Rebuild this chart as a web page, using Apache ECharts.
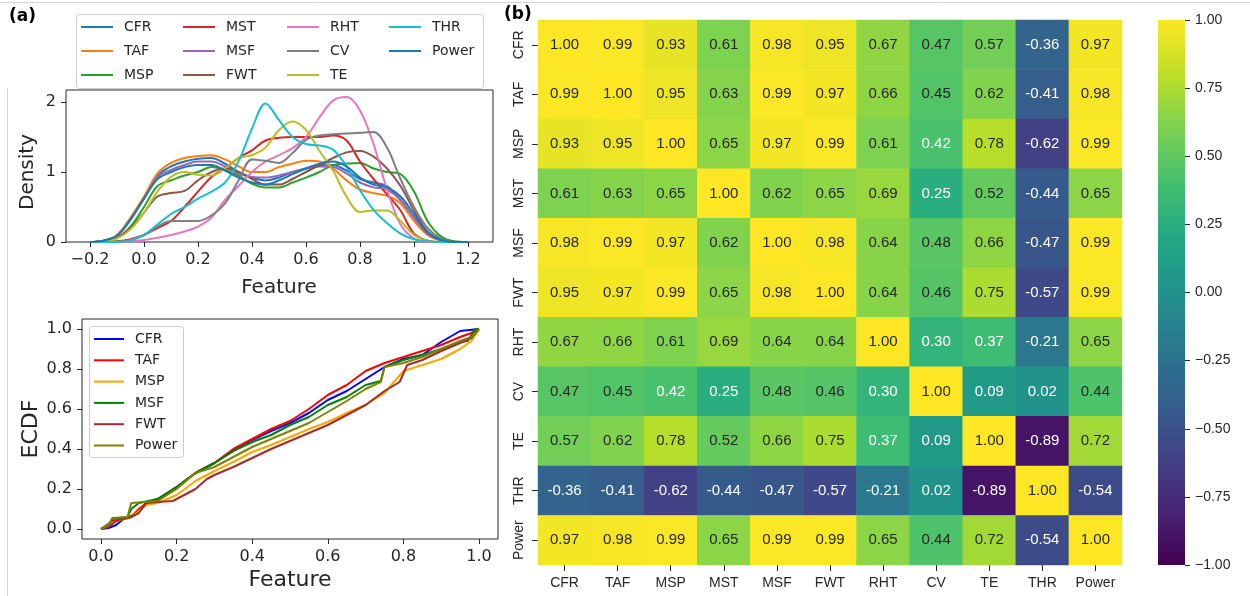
<!DOCTYPE html>
<html><head><meta charset="utf-8">
<script src="https://cdn.jsdelivr.net/npm/echarts@6/dist/echarts.min.js"></script>
<style>html,body{margin:0;padding:0;background:#fff}#c{width:1250px;height:596px}</style>
</head><body><div id="c"></div>
<script>
// ---------- (a) top: density curves ----------
const densityX = [-0.2,-0.15,-0.1,-0.05,0,0.05,0.1,0.15,0.2,0.25,0.3,0.35,0.4,0.45,0.5,0.55,0.6,0.65,0.7,0.75,0.8,0.85,0.9,0.95,1.0,1.05,1.1,1.15,1.2];
const densityNames = ['CFR','TAF','MSP','MST','MSF','FWT','RHT','CV','TE','THR','Power'];
const densityColors = ['#1f77b4','#ff7f0e','#2ca02c','#d62728','#9467bd','#8c564b','#e377c2','#7f7f7f','#bcbd22','#17becf','#1f77b4'];
const dCFR   = [0.0,0.02,0.09,0.32,0.63,0.95,1.08,1.15,1.19,1.2,1.12,1.0,0.92,0.88,0.92,1.0,1.05,1.1,1.1,1.02,0.9,0.85,0.8,0.6,0.35,0.12,0.02,0.0,0.0];
const dTAF   = [0.0,0.02,0.1,0.35,0.65,0.98,1.13,1.2,1.23,1.24,1.18,1.08,1.0,1.0,1.07,1.12,1.16,1.15,1.05,0.88,0.75,0.7,0.66,0.55,0.3,0.1,0.02,0.0,0.0];
const dMSP   = [0.0,0.01,0.06,0.22,0.5,0.8,0.88,0.95,1.0,1.07,1.03,0.95,0.83,0.78,0.78,0.85,0.92,1.0,1.1,1.12,1.13,1.05,1.0,0.97,0.72,0.3,0.08,0.01,0.0];
const dMST   = [0.0,0.0,0.01,0.04,0.1,0.2,0.3,0.5,0.72,0.93,1.05,1.2,1.31,1.45,1.49,1.5,1.5,1.5,1.52,1.45,1.15,0.9,0.68,0.45,0.12,0.02,0.0,0.0,0.0];
const dMSF   = [0.0,0.02,0.09,0.33,0.62,0.93,1.03,1.1,1.15,1.15,1.08,0.98,0.93,0.92,0.95,1.0,1.05,1.08,1.07,0.98,0.85,0.78,0.75,0.6,0.35,0.12,0.02,0.0,0.0];
const dFWT   = [0.0,0.01,0.06,0.2,0.42,0.65,0.7,0.73,0.88,1.0,1.05,1.0,0.9,0.82,0.82,0.9,1.0,1.1,1.2,1.28,1.3,1.22,1.05,0.8,0.45,0.15,0.03,0.0,0.0];
const dRHT   = [0.0,0.0,0.0,0.01,0.03,0.06,0.1,0.15,0.22,0.35,0.6,0.8,1.0,1.15,1.24,1.34,1.5,1.78,2.02,2.07,1.88,1.4,0.75,0.25,0.05,0.0,0.0,0.0,0.0];
const dCV    = [0.0,0.0,0.01,0.03,0.1,0.22,0.3,0.3,0.3,0.38,0.55,0.88,1.18,1.16,1.13,1.27,1.46,1.52,1.54,1.55,1.56,1.57,1.35,0.9,0.5,0.2,0.05,0.0,0.0];
const dTE    = [0.0,0.01,0.05,0.18,0.42,0.72,0.93,1.0,0.96,0.95,1.05,1.2,1.24,1.35,1.6,1.72,1.6,1.3,1.02,0.65,0.43,0.45,0.45,0.3,0.1,0.02,0.0,0.0,0.0];
const dTHR   = [0.0,0.0,0.0,0.02,0.1,0.25,0.4,0.5,0.62,0.72,0.85,1.15,1.62,1.98,1.74,1.5,1.4,1.38,1.32,1.08,0.74,0.46,0.27,0.12,0.04,0.01,0.0,0.0,0.0];
const dPower = [0.0,0.02,0.09,0.32,0.62,0.9,1.0,1.07,1.1,1.1,1.02,0.92,0.85,0.82,0.88,0.97,1.05,1.12,1.15,1.08,0.92,0.82,0.78,0.65,0.4,0.14,0.03,0.0,0.0];
const densityValues = [dCFR,dTAF,dMSP,dMST,dMSF,dFWT,dRHT,dCV,dTE,dTHR,dPower];

// ---------- (a) bottom: ECDF ----------
const ecdfNames = ['CFR','TAF','MSP','MSF','FWT','Power'];
const ecdfColors = ['#0000ff','#ff0000','#ffa500','#008000','#a52a2a','#808000'];
const eCFR = [[0,0],[0.02,0.005],[0.04,0.02],[0.06,0.05],[0.08,0.065],[0.1,0.09],[0.12,0.13],[0.15,0.15],[0.2,0.21],[0.25,0.28],[0.3,0.33],[0.35,0.39],[0.4,0.445],[0.45,0.49],[0.5,0.53],[0.55,0.58],[0.6,0.645],[0.65,0.69],[0.7,0.75],[0.75,0.81],[0.8,0.85],[0.85,0.87],[0.9,0.935],[0.95,0.99],[1.0,1.0]];
const eTAF = [[0,0],[0.03,0.04],[0.06,0.05],[0.08,0.06],[0.1,0.1],[0.12,0.13],[0.15,0.145],[0.2,0.21],[0.25,0.28],[0.3,0.33],[0.35,0.4],[0.4,0.45],[0.45,0.5],[0.5,0.54],[0.55,0.6],[0.6,0.67],[0.65,0.72],[0.7,0.79],[0.75,0.83],[0.8,0.86],[0.85,0.89],[0.9,0.92],[0.95,0.96],[0.98,0.98],[1.0,1.0]];
const eMSP = [[0,0],[0.03,0.03],[0.06,0.05],[0.08,0.06],[0.1,0.09],[0.12,0.12],[0.15,0.13],[0.2,0.17],[0.25,0.24],[0.3,0.29],[0.35,0.335],[0.4,0.385],[0.45,0.42],[0.5,0.46],[0.55,0.5],[0.6,0.535],[0.65,0.58],[0.7,0.62],[0.75,0.68],[0.8,0.79],[0.85,0.82],[0.9,0.85],[0.95,0.9],[0.98,0.94],[1.0,1.0]];
const eMSF = [[0,0],[0.02,0.02],[0.03,0.05],[0.07,0.06],[0.08,0.1],[0.1,0.13],[0.15,0.15],[0.2,0.21],[0.25,0.28],[0.3,0.33],[0.35,0.39],[0.4,0.435],[0.45,0.47],[0.5,0.52],[0.55,0.56],[0.6,0.62],[0.65,0.66],[0.7,0.72],[0.74,0.74],[0.75,0.81],[0.8,0.845],[0.85,0.87],[0.9,0.9],[0.95,0.935],[0.97,0.94],[0.99,1.0],[1.0,1.0]];
const eFWT = [[0,0],[0.02,0.01],[0.04,0.04],[0.06,0.05],[0.08,0.06],[0.1,0.08],[0.12,0.13],[0.15,0.135],[0.19,0.14],[0.22,0.17],[0.25,0.2],[0.28,0.25],[0.3,0.27],[0.35,0.31],[0.4,0.355],[0.45,0.4],[0.5,0.44],[0.55,0.48],[0.6,0.52],[0.65,0.57],[0.7,0.62],[0.75,0.69],[0.79,0.735],[0.81,0.82],[0.85,0.845],[0.9,0.89],[0.95,0.93],[0.98,0.955],[1.0,1.0]];
const ePower = [[0,0],[0.02,0.02],[0.03,0.055],[0.07,0.06],[0.075,0.06],[0.08,0.13],[0.15,0.14],[0.2,0.2],[0.25,0.28],[0.3,0.31],[0.35,0.36],[0.4,0.41],[0.45,0.45],[0.5,0.49],[0.55,0.53],[0.6,0.585],[0.65,0.64],[0.7,0.7],[0.74,0.735],[0.75,0.81],[0.8,0.83],[0.85,0.86],[0.9,0.9],[0.95,0.94],[0.98,0.96],[1.0,1.0]];
const ecdfValues = [eCFR,eTAF,eMSP,eMSF,eFWT,ePower];

// ---------- (b) correlation heatmap ----------
const corrLabels = ['CFR','TAF','MSP','MST','MSF','FWT','RHT','CV','TE','THR','Power'];
const rCFR   = [1.00,0.99,0.93,0.61,0.98,0.95,0.67,0.47,0.57,-0.36,0.97];
const rTAF   = [0.99,1.00,0.95,0.63,0.99,0.97,0.66,0.45,0.62,-0.41,0.98];
const rMSP   = [0.93,0.95,1.00,0.65,0.97,0.99,0.61,0.42,0.78,-0.62,0.99];
const rMST   = [0.61,0.63,0.65,1.00,0.62,0.65,0.69,0.25,0.52,-0.44,0.65];
const rMSF   = [0.98,0.99,0.97,0.62,1.00,0.98,0.64,0.48,0.66,-0.47,0.99];
const rFWT   = [0.95,0.97,0.99,0.65,0.98,1.00,0.64,0.46,0.75,-0.57,0.99];
const rRHT   = [0.67,0.66,0.61,0.69,0.64,0.64,1.00,0.30,0.37,-0.21,0.65];
const rCV    = [0.47,0.45,0.42,0.25,0.48,0.46,0.30,1.00,0.09,0.02,0.44];
const rTE    = [0.57,0.62,0.78,0.52,0.66,0.75,0.37,0.09,1.00,-0.89,0.72];
const rTHR   = [-0.36,-0.41,-0.62,-0.44,-0.47,-0.57,-0.21,0.02,-0.89,1.00,-0.54];
const rPower = [0.97,0.98,0.99,0.65,0.99,0.99,0.65,0.44,0.72,-0.54,1.00];
const corrRows = [rCFR,rTAF,rMSP,rMST,rMSF,rFWT,rRHT,rCV,rTE,rTHR,rPower];

const viridis = ['#440154','#482475','#414487','#355f8d','#2a788e','#21918c','#22a884','#44bf70','#7ad151','#bddf26','#fde725'];

const DJ = 'DejaVu Sans';
const AR = 'Liberation Sans, Arial, sans-serif';
const INK = '#262626';
const minusFmt = (d) => v => (v < -1e-9 ? '\u2212' : '') + Math.abs(v).toFixed(d);

const chart = echarts.init(document.getElementById('c'));

const series = [];
densityNames.forEach((n, i) => {
  series.push({
    type: 'line', name: n, xAxisIndex: 1, yAxisIndex: 1, smooth: 0.35, clip: false,
    showSymbol: false, symbol: 'none',
    lineStyle: { width: 2, color: densityColors[i] }, itemStyle: { color: densityColors[i] },
    data: densityX.map((x, k) => [x, densityValues[i][k]]), z: 3 + i * 0.01
  });
});
ecdfNames.forEach((n, i) => {
  series.push({
    type: 'line', name: n, id: 'ecdf' + n, xAxisIndex: 3, yAxisIndex: 3, clip: false,
    showSymbol: false, symbol: 'none', legendHoverLink: false,
    lineStyle: { width: 2, color: ecdfColors[i] }, itemStyle: { color: ecdfColors[i] },
    data: ecdfValues[i], z: 3 + i * 0.01
  });
});
const heatData = [];
corrRows.forEach((row, r) => row.forEach((v, c) => {
  heatData.push({ value: [c, r, v], label: { color: v < 0.43 ? '#ffffff' : INK } });
}));
series.push({
  type: 'heatmap', xAxisIndex: 4, yAxisIndex: 4, data: heatData,
  label: { show: true, fontFamily: AR, fontSize: 15, formatter: p => p.value[2].toFixed(2) },
  emphasis: { disabled: true }
});

const colLegend = (names, left) => ({
  orient: 'vertical', left: left, top: 20, padding: 0, itemGap: 10, z: 6,
  itemWidth: 32, itemHeight: 2, icon: 'rect',
  textStyle: { fontFamily: DJ, fontSize: 14, color: INK, padding: [0, 0, 0, 6] },
  data: names.map(n => ({ name: n })),
  selectedMode: false
});

const gridFrame = { show: true, borderColor: INK, borderWidth: 1, backgroundColor: 'transparent' };
const noLine = { show: false, onZero: false };

chart.setOption({
  animation: false,
  grid: [
    Object.assign({ left: 66, top: 90, width: 427, height: 152 }, gridFrame),
    { left: 90, top: 102, width: 378, height: 140, show: false },
    Object.assign({ left: 82, top: 319, width: 416, height: 220 }, gridFrame),
    { left: 101, top: 329, width: 378, height: 200, show: false },
    { left: 538, top: 20, width: 584, height: 545, show: false },
    { left: 1158, top: 20, width: 27, height: 545, show: false }
  ],
  xAxis: [
    { gridIndex: 0, type: 'value', show: false },
    { gridIndex: 1, type: 'value', min: -0.2, max: 1.2, interval: 0.2,
      axisLine: noLine, splitLine: { show: false },
      axisTick: { show: true, length: 5, lineStyle: { color: INK } },
      axisLabel: { fontFamily: DJ, fontSize: 16, color: INK, margin: 10, formatter: minusFmt(1) },
      name: 'Feature', nameLocation: 'middle', nameGap: 36,
      nameTextStyle: { fontFamily: DJ, fontSize: 20, color: INK } },
    { gridIndex: 2, type: 'value', show: false },
    { gridIndex: 3, type: 'value', min: 0, max: 1, interval: 0.2, offset: 10,
      axisLine: noLine, splitLine: { show: false },
      axisTick: { show: true, length: 5, lineStyle: { color: INK } },
      axisLabel: { fontFamily: DJ, fontSize: 16, color: INK, margin: 10, formatter: minusFmt(1) },
      name: 'Feature', nameLocation: 'middle', nameGap: 30,
      nameTextStyle: { fontFamily: DJ, fontSize: 22, color: INK } },
    { gridIndex: 4, type: 'category', data: corrLabels, position: 'bottom',
      axisLine: noLine, splitLine: { show: false },
      axisTick: { show: true, length: 6, alignWithLabel: true, interval: 0, lineStyle: { color: INK } },
      axisLabel: { fontFamily: AR, fontSize: 14, color: INK, margin: 11, interval: 0 } },
    { gridIndex: 5, type: 'value', show: false }
  ],
  yAxis: [
    { gridIndex: 0, type: 'value', show: false },
    { gridIndex: 1, type: 'value', min: 0, max: 2, interval: 1, offset: 24,
      axisLine: noLine, splitLine: { show: false },
      axisTick: { show: true, length: 5, lineStyle: { color: INK } },
      axisLabel: { fontFamily: DJ, fontSize: 16, color: INK, margin: 10 },
      name: 'Density', nameLocation: 'middle', nameGap: 28, nameRotate: 90,
      nameTextStyle: { fontFamily: DJ, fontSize: 20, color: INK } },
    { gridIndex: 2, type: 'value', show: false },
    { gridIndex: 3, type: 'value', min: 0, max: 1, interval: 0.2, offset: 19,
      axisLine: noLine, splitLine: { show: false },
      axisTick: { show: true, length: 5, lineStyle: { color: INK } },
      axisLabel: { fontFamily: DJ, fontSize: 16, color: INK, margin: 10, formatter: minusFmt(1) },
      name: 'ECDF', nameLocation: 'middle', nameGap: 38, nameRotate: 90,
      nameTextStyle: { fontFamily: DJ, fontSize: 22, color: INK } },
    { gridIndex: 4, type: 'category', data: corrLabels, inverse: true,
      axisLine: noLine, splitLine: { show: false },
      axisTick: { show: true, length: 6, alignWithLabel: true, interval: 0, lineStyle: { color: INK } },
      axisLabel: { fontFamily: AR, fontSize: 14, color: INK, margin: 12, rotate: 90, interval: 0 } },
    { gridIndex: 5, type: 'value', min: -1, max: 1, interval: 0.25, position: 'right',
      axisLine: noLine, splitLine: { show: false },
      axisTick: { show: true, length: 5, lineStyle: { color: INK } },
      axisLabel: { fontFamily: AR, fontSize: 14, color: INK, margin: 10, formatter: minusFmt(2) } }
  ],
  visualMap: {
    type: 'continuous', show: false, min: -1, max: 1, seriesIndex: series.length - 1,
    dimension: 2, inRange: { color: viridis }
  },
  legend: [
    colLegend(['CFR','TAF','MSP'], 81),
    colLegend(['MST','MSF','FWT'], 183),
    colLegend(['RHT','CV','TE'], 287),
    colLegend(['THR','Power'], 389),
    { orient: 'vertical', left: 94, top: 331, padding: 0, itemGap: 5.3, z: 6,
      itemWidth: 30, itemHeight: 2, icon: 'rect',
      textStyle: { fontFamily: DJ, fontSize: 14, color: INK, padding: [0,0,0,6], lineHeight: 16 },
      data: ecdfNames.map((n, i) => ({ name: n, itemStyle: { color: ecdfColors[i] } })),
      selectedMode: false }
  ],
  graphic: [
    { type: 'line', shape: { x1: 0, y1: 2.5, x2: 1250, y2: 2.5 }, style: { stroke: '#d4d4d4', lineWidth: 1 }, silent: true },
    { type: 'line', shape: { x1: 7.5, y1: 88, x2: 7.5, y2: 596 }, style: { stroke: '#d4d4d4', lineWidth: 1 }, silent: true },
    { type: 'rect', shape: { x: 76.5, y: 14.5, width: 407, height: 74, r: 3 },
      style: { fill: 'rgba(255,255,255,0.8)', stroke: '#cccccc', lineWidth: 1 }, z: 4, silent: true },
    { type: 'rect', shape: { x: 89.5, y: 326.5, width: 94, height: 131, r: 3 },
      style: { fill: 'rgba(255,255,255,0.8)', stroke: '#cccccc', lineWidth: 1 }, z: 4, silent: true },
    { type: 'rect', shape: { x: 1158, y: 20, width: 27, height: 545 },
      style: { fill: new echarts.graphic.LinearGradient(0, 0, 0, 1,
        viridis.slice().reverse().map((c, i) => ({ offset: i / (viridis.length - 1), color: c }))) },
      silent: true },
    { type: 'text', x: 9, y: 8, style: { text: '(a)', font: 'bold 17px "DejaVu Sans"', fill: '#000' } },
    { type: 'text', x: 504, y: 6, style: { text: '(b)', font: 'bold 17px "DejaVu Sans"', fill: '#000' } }
  ],
  series: series
});
</script></body></html>
